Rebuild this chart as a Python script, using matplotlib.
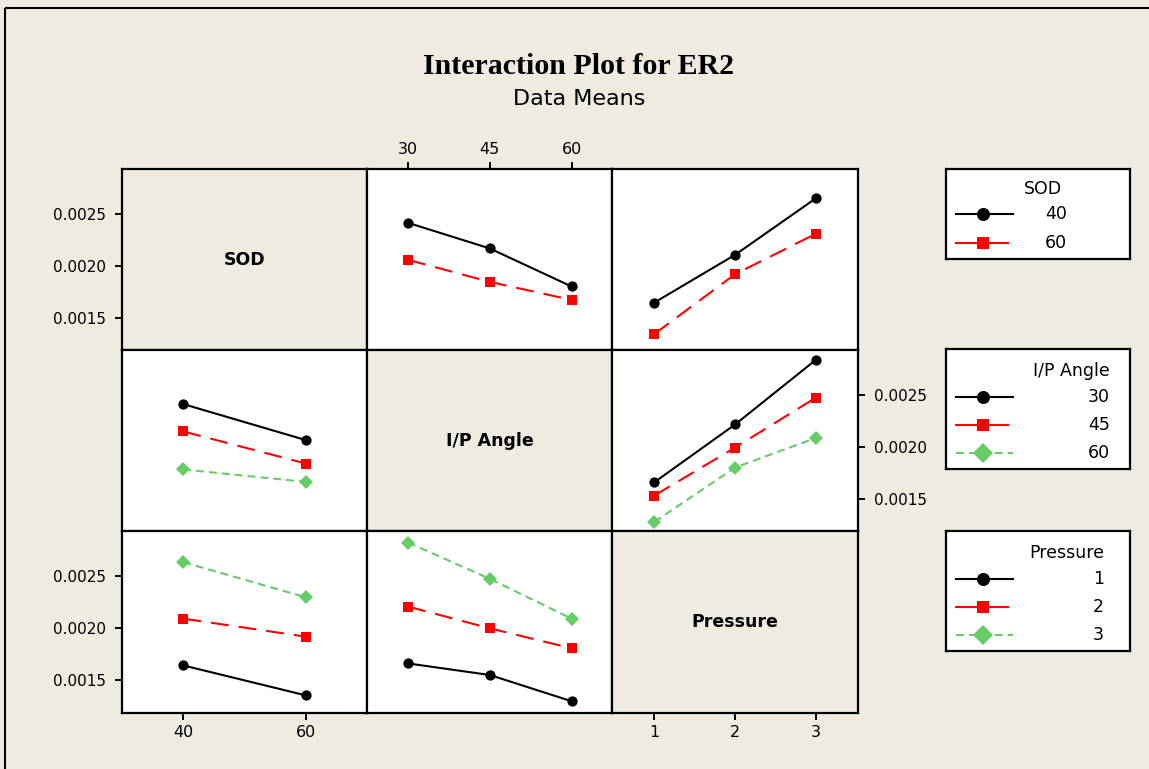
import matplotlib
matplotlib.use("Agg")
import matplotlib.pyplot as plt
from matplotlib.lines import Line2D

# ---------------- data (means) ----------------
factor_names = ["SOD", "I/P Angle", "Pressure"]
sod_levels = [40, 60]
angle_levels = [30, 45, 60]
pressure_levels = [1, 2, 3]
levels = [sod_levels, angle_levels, pressure_levels]

# row factor (traces) vs column factor (x axis)
sod_by_angle = [[0.002413, 0.002167, 0.001802],
                [0.002058, 0.001846, 0.001673]]
sod_by_pressure = [[0.001648, 0.002106, 0.002648],
                   [0.001346, 0.001920, 0.002308]]
angle_by_sod = [[0.002413, 0.002067],
                [0.002150, 0.001842],
                [0.001785, 0.001666]]
angle_by_pressure = [[0.001663, 0.002217, 0.002837],
                     [0.001535, 0.001996, 0.002474],
                     [0.001282, 0.001804, 0.002087]]
pressure_by_sod = [[0.001644, 0.001356],
                   [0.002093, 0.001920],
                   [0.002635, 0.002298]]
pressure_by_angle = [[0.001663, 0.001552, 0.001300],
                     [0.002209, 0.002000, 0.001808],
                     [0.002824, 0.002475, 0.002093]]

panel_data = {(0, 1): sod_by_angle, (0, 2): sod_by_pressure,
              (1, 0): angle_by_sod, (1, 2): angle_by_pressure,
              (2, 0): pressure_by_sod, (2, 1): pressure_by_angle}

y_ticks = [0.0015, 0.0020, 0.0025]
y_tick_labels = ["0.0015", "0.0020", "0.0025"]

# ---------------- styles ----------------
BG = "#EFEBE0"
GREEN = "#66CC66"
LW = 1.5
styles = [
    dict(color="black", linestyle="-", marker="o", ms=7.4),
    dict(color="#FF0000", linestyle=(0, (8.6, 4.8)), marker="s", ms=7.0),
    dict(color=GREEN, linestyle=(0, (3.8, 2.4)), marker="D", ms=7.2),
]
xlims = [(30, 70), (22.5, 67.5), (0.48, 3.52)]
ylim = (0.00119, 0.00293)

W, H = 1149, 769
fig = plt.figure(figsize=(W / 100, H / 100), dpi=100, facecolor=BG)
plt.rcParams["font.family"] = ["DejaVu Sans"]


def fx(px):
    return px / W


def fy(py):
    return 1 - py / H


# outer frame (left and top edges visible)
fig.add_artist(Line2D([fx(5), fx(5)], [-0.01, fy(8)], color="black", lw=1.5,
                      solid_capstyle="butt"))
fig.add_artist(Line2D([fx(5), 1.01], [fy(8), fy(8)], color="black", lw=1.5,
                      solid_capstyle="butt"))

fig.text(fx(578.5), fy(74), "Interaction Plot for ER2", ha="center", va="baseline",
         fontsize=21.5, fontweight="bold", family="Liberation Serif")
fig.text(fx(579), fy(105), "Data Means", ha="center", va="baseline", fontsize=16)

gl, gr, gt, gb = 122, 857.7, 169, 712.7
cw = (gr - gl) / 3
rh = (gb - gt) / 3

ytick_kw = dict(length=5, width=1.4, pad=6.5, labelsize=11, direction="out")
xtick_kw = dict(length=5, width=1.4, pad=3.5, labelsize=11.5, direction="out")

axes = [[None] * 3 for _ in range(3)]
for i in range(3):
    for j in range(3):
        ax = fig.add_axes([fx(gl + j * cw), fy(gt + (i + 1) * rh), cw / W, rh / H])
        axes[i][j] = ax
        ax.set_xlim(*xlims[j])
        ax.set_ylim(*ylim)
        for s in ax.spines.values():
            s.set_linewidth(1.6)
        ax.set_xticks([])
        ax.set_yticks([])
        if i == j:
            ax.set_facecolor(BG)
            ax.text(0.5, 0.5, factor_names[i], transform=ax.transAxes, ha="center",
                    va="center", fontsize=12.5, fontweight="bold")
        else:
            ax.set_facecolor("white")
            for k, series in enumerate(panel_data[(i, j)]):
                st = styles[k]
                ax.plot(levels[j], series, color=st["color"], linestyle=st["linestyle"],
                        lw=LW, marker=st["marker"], markersize=st["ms"],
                        markeredgewidth=0, zorder=3, clip_on=False)

# y ticks: row 0 left, row 1 right, row 2 left
for i, side in [(0, "left"), (1, "right"), (2, "left")]:
    ax = axes[i][0] if side == "left" else axes[i][2]
    ax.set_yticks(y_ticks)
    ax.set_yticklabels(y_tick_labels)
    if side == "right":
        ax.yaxis.tick_right()
    ax.tick_params(axis="y", **ytick_kw)

# x ticks: col 0 bottom, col 1 top, col 2 bottom
ax = axes[2][0]
ax.set_xticks(sod_levels)
ax.set_xticklabels([str(v) for v in sod_levels])
ax.tick_params(axis="x", **xtick_kw)
ax = axes[0][1]
ax.set_xticks(angle_levels)
ax.set_xticklabels([str(v) for v in angle_levels])
ax.xaxis.tick_top()
ax.tick_params(axis="x", **xtick_kw)
ax = axes[2][2]
ax.set_xticks(pressure_levels)
ax.set_xticklabels([str(v) for v in pressure_levels])
ax.tick_params(axis="x", **xtick_kw)

# ---------------- legends ----------------
legend_specs = [
    dict(title="SOD", labels=[str(v) for v in sod_levels], box=(946, 169, 1130, 259),
         title_x=1043, title_ha="center", label_x=1045, label_ha="left", title_base=194,
         rows=[214.3, 242.7]),
    dict(title="I/P Angle", labels=[str(v) for v in angle_levels], box=(946, 349, 1130, 469),
         title_x=1110, title_ha="right", label_x=1110, label_ha="right", title_base=376,
         rows=[396.7, 425, 453.3]),
    dict(title="Pressure", labels=[str(v) for v in pressure_levels], box=(946, 531, 1130, 651),
         title_x=1104, title_ha="right", label_x=1104, label_ha="right", title_base=558,
         rows=[579, 606.7, 635]),
]
leg_ms = [9.4, 9.0, 10.5]
for spec in legend_specs:
    x0, y0, x1, y1 = spec["box"]
    lax = fig.add_axes([fx(x0), fy(y1), (x1 - x0) / W, (y1 - y0) / H])
    lax.set_xlim(x0, x1)
    lax.set_ylim(y1, y0)
    lax.set_xticks([])
    lax.set_yticks([])
    lax.set_facecolor("white")
    for s in lax.spines.values():
        s.set_linewidth(1.6)
    lax.text(spec["title_x"], spec["title_base"], spec["title"], ha=spec["title_ha"],
             va="baseline", fontsize=12.5)
    for k, (lab, yy) in enumerate(zip(spec["labels"], spec["rows"])):
        st = styles[k]
        ls = "-" if k < 2 else st["linestyle"]
        xe = 1013 if k != 1 else 1008
        lax.plot([956, xe], [yy, yy], color=st["color"], linestyle=ls, lw=LW)
        lax.plot([983], [yy], color=st["color"], marker=st["marker"], markersize=leg_ms[k],
                 markeredgewidth=0, linestyle="none")
        lax.text(spec["label_x"], yy, lab, ha=spec["label_ha"], va="center", fontsize=12.5)

fig.savefig("out.png", dpi=100, facecolor=BG)
